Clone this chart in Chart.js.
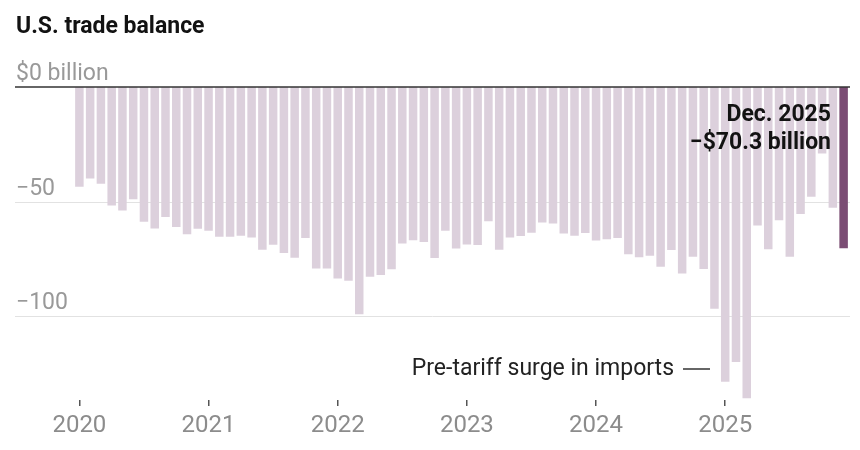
<!DOCTYPE html>
<html>
<head>
<meta charset="utf-8">
<script src="https://cdn.jsdelivr.net/npm/chart.js@4"></script>
<style>
  html, body { margin: 0; padding: 0; background: #fff; }
  #wrap { width: 860px; height: 450px; position: relative; }
</style>
</head>
<body>
<div id="wrap"><canvas id="grafica"></canvas></div>
<script>
// Monthly U.S. trade balance, billions of dollars
const years = ["2020", "2021", "2022", "2023", "2024", "2025"];
const monthNames = ["Jan", "Feb", "Mar", "Apr", "May", "Jun", "Jul", "Aug", "Sep", "Oct", "Nov", "Dec"];

const bal2020 = [-43.5, -39.9, -42.2, -51.7, -53.9, -48.9, -58.8, -61.7, -56.7, -61.0, -64.2, -61.8];
const bal2021 = [-62.7, -65.3, -65.3, -64.9, -65.6, -71.0, -68.8, -72.4, -74.5, -65.8, -79.1, -79.1];
const bal2022 = [-83.5, -84.5, -99.1, -82.7, -82.0, -79.5, -68.2, -66.8, -67.6, -74.6, -62.7, -70.4];
const bal2023 = [-68.7, -68.9, -58.5, -71.0, -65.6, -65.0, -63.6, -59.1, -59.5, -63.9, -64.9, -63.7];
const bal2024 = [-66.9, -66.4, -65.9, -72.9, -74.3, -73.6, -78.4, -71.1, -81.3, -74.0, -79.4, -96.7];
const bal2025 = [-128.5, -119.9, -135.7, -60.4, -70.8, -58.1, -74.0, -55.4, -47.9, -29.0, -52.7, -70.3];

const yTicks = [0, -50, -100];
const yTickLabels = ["$0 billion", "\u221250", "\u2212100"];

const balance = [].concat(bal2020, bal2021, bal2022, bal2023, bal2024, bal2025);
const categories = [];
years.forEach(y => monthNames.forEach(m => categories.push(m + " " + y)));
const lastIndex = balance.length - 1;

const FONT = "Roboto, 'Liberation Sans', sans-serif";

// Title, y labels, gridlines and notes
const decoraciones = {
    id: "decoraciones",
    beforeDatasetsDraw(chart) {
        const ctx = chart.ctx;
        const y = chart.scales.y;
        ctx.save();
        ctx.strokeStyle = "#e2e2e2";
        ctx.lineWidth = 1;
        yTicks.forEach(v => {
            if (v === 0) return;
            const py = Math.round(y.getPixelForValue(v)) + 0.5;
            ctx.beginPath();
            ctx.moveTo(15, py);
            ctx.lineTo(850, py);
            ctx.stroke();
        });
        ctx.restore();
    },
    afterDatasetsDraw(chart) {
        const ctx = chart.ctx;
        const y = chart.scales.y;
        ctx.save();

        // zero line
        const py0 = y.getPixelForValue(0);
        ctx.strokeStyle = "#333";
        ctx.lineWidth = 1.5;
        ctx.beginPath();
        ctx.moveTo(15, py0);
        ctx.lineTo(850, py0);
        ctx.stroke();

        // y labels above their lines
        ctx.fillStyle = "#999";
        ctx.font = "23px " + FONT;
        ctx.textAlign = "left";
        ctx.textBaseline = "alphabetic";
        yTicks.forEach((v, i) => {
            ctx.fillText(yTickLabels[i], 16, y.getPixelForValue(v) - 7);
        });

        // title
        ctx.fillStyle = "#121212";
        ctx.font = "bold 23px " + FONT;
        ctx.fillText("U.S. trade balance", 16, 33);

        // latest value note
        ctx.textAlign = "right";
        ctx.font = "bold 23px " + FONT;
        ctx.fillText("Dec. 2025", 831, 121);
        ctx.fillText("\u2212$70.3 billion", 831, 149);

        // surge note with its dash
        ctx.fillStyle = "#222";
        ctx.font = "23px " + FONT;
        ctx.fillText("Pre-tariff surge in imports", 674, 375);
        ctx.strokeStyle = "#333";
        ctx.lineWidth = 1.5;
        ctx.beginPath();
        ctx.moveTo(683, 369);
        ctx.lineTo(710, 369);
        ctx.stroke();

        ctx.restore();
    }
};

const ctx = document.getElementById("grafica").getContext("2d");
new Chart(ctx, {
    type: "bar",
    data: {
        labels: categories,
        datasets: [{
            label: "Trade balance",
            data: balance,
            backgroundColor: c => c.dataIndex === lastIndex ? "#7b4d74" : "#dcd0dc",
            borderWidth: 0,
            barPercentage: 0.79,
            categoryPercentage: 1
        }]
    },
    options: {
        responsive: true,
        maintainAspectRatio: false,
        animation: false,
        layout: { padding: { left: 74, right: 11, top: 87, bottom: 0 } },
        plugins: {
            legend: { display: false },
            tooltip: { enabled: false }
        },
        scales: {
            x: {
                afterFit: s => { s.height = 50; },
                border: { display: false },
                grid: {
                    offset: false,
                    drawOnChartArea: false,
                    drawTicks: true,
                    tickLength: 6,
                    lineWidth: 1.5,
                    color: c => (c.index % 12 === 0 ? "#555" : "rgba(0,0,0,0)")
                },
                ticks: {
                    autoSkip: false,
                    maxRotation: 0,
                    padding: 6,
                    color: "#8c8c8c",
                    font: { family: FONT, size: 24 },
                    callback: (v, i) => (i % 12 === 0 ? years[i / 12] : "")
                }
            },
            y: {
                display: false,
                min: -136.5,
                max: 0
            }
        }
    },
    plugins: [decoraciones]
});
</script>
</body>
</html>
